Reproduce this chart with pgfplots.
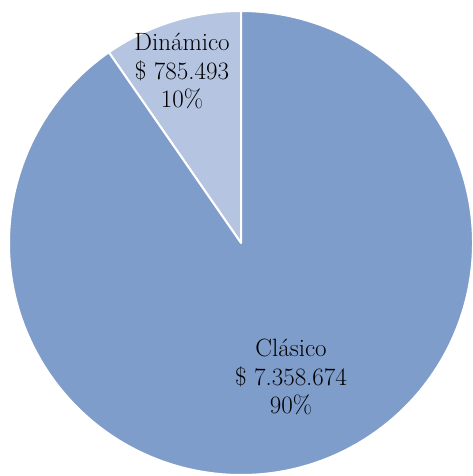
\documentclass[border=0pt]{standalone}
\usepackage{pgfplots}
\pgfplotsset{compat=1.18}
\usepackage{pgfplotstable}
\definecolor{big}{HTML}{7F9DCB}
\definecolor{small}{HTML}{B5C4E0}
\pgfplotstableread{
name value
Clasico 7358674
Dinamico 785493
}\piedata
\begin{document}
\begin{tikzpicture}
\pgfplotstablegetelem{0}{value}\of\piedata \let\va\pgfplotsretval
\pgfplotstablegetelem{1}{value}\of\piedata \let\vb\pgfplotsretval
\pgfkeys{/pgf/fpu=true,/pgf/fpu/output format=fixed}
\pgfmathsetmacro{\angb}{360*\vb/(\va+\vb)}
\pgfmathsetmacro{\endb}{90+\angb}
\pgfkeys{/pgf/fpu=false}
\useasboundingbox (0,0) rectangle (473pt,476pt);
\begin{axis}[
  anchor=origin, at={(0,0)},
  hide axis, scale only axis,
  x=1pt, y=1pt,
  xmin=0, xmax=473, ymin=0, ymax=476,
  clip=false,
]
\fill[small, draw=white, line width=2pt, line join=round] (axis cs:241,233) -- ++(90:232pt) arc[start angle=90, end angle=\endb, radius=232pt] -- cycle;
\fill[big, draw=white, line width=2pt, line join=round] (axis cs:241,233) -- ++(\endb:232pt) arc[start angle=\endb, end angle=450, radius=232pt] -- cycle;
\node[align=center, font=\fontsize{25}{28.5}\selectfont] at (axis cs:182,405) {Dinámico\\\$ 785.493\\10\%};
\node[align=center, font=\fontsize{25}{28.5}\selectfont] at (axis cs:291,99) {Clásico\\\$ 7.358.674\\90\%};
\end{axis}
\end{tikzpicture}
\end{document}
